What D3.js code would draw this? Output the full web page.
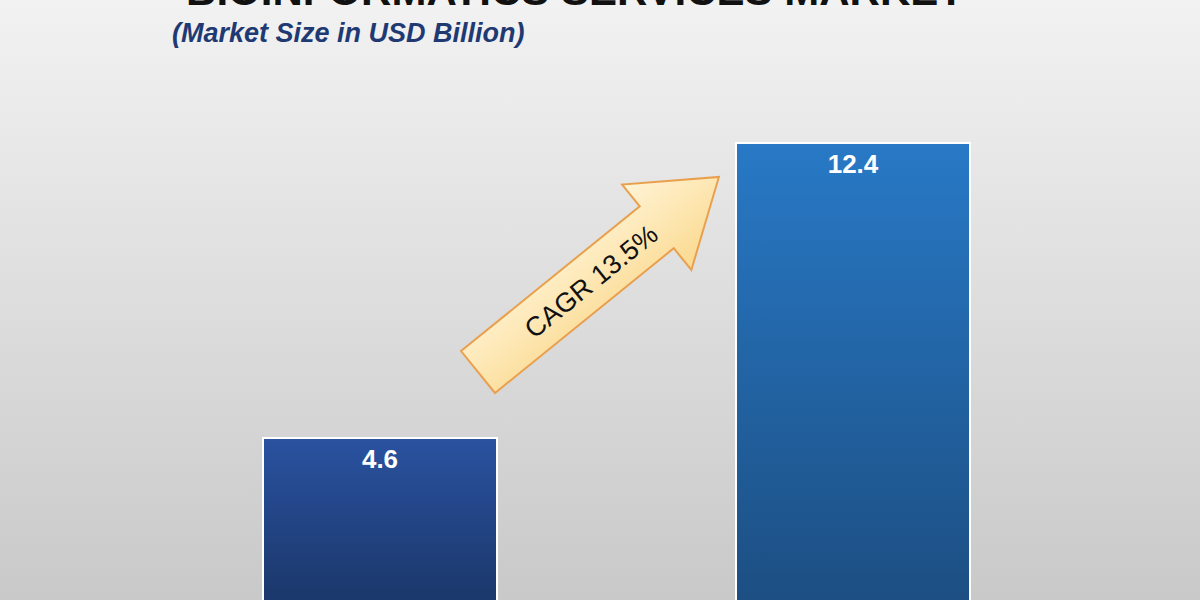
<!DOCTYPE html><html><head><meta charset="utf-8"><script src="https://d3js.org/d3.v7.min.js"></script>
<style>body{margin:0}</style></head><body><svg id="c" width="1200" height="600"></svg><script>
const categories=["2023","2030"];
const values=[4.6,12.4];
const labels=["4.6","12.4"];
const title="BIOINFORMATICS SERVICES MARKET";
const subtitle="(Market Size in USD Billion)";
const cagr="CAGR 13.5%";
const svg=d3.select("#c");
const defs=svg.append("defs");
const bg=defs.append("linearGradient").attr("id","bg").attr("x1",0).attr("y1",0).attr("x2",0).attr("y2",1);
bg.append("stop").attr("offset",0).attr("stop-color","#f2f2f2");
bg.append("stop").attr("offset",1).attr("stop-color","#c9c9c9");
const cols=[["#2a52a0","#1a3566"],["#2879c6","#1c4d80"]];
cols.forEach((c,i)=>{const g=defs.append("linearGradient").attr("id","b"+i).attr("x1",0).attr("y1",0).attr("x2",0).attr("y2",1);
g.append("stop").attr("offset",0).attr("stop-color",c[0]);g.append("stop").attr("offset",1).attr("stop-color",c[1]);});
const ag=defs.append("linearGradient").attr("id","ag").attr("x1",0).attr("y1",0).attr("x2",0).attr("y2",1);
ag.append("stop").attr("offset",0).attr("stop-color","#fff4d6");ag.append("stop").attr("offset",1).attr("stop-color","#fbd98f");
svg.append("rect").attr("width",1200).attr("height",600).attr("fill","url(#bg)");
svg.append("text").attr("x",575).attr("y",5).attr("text-anchor","middle").attr("font-family","Liberation Sans, Arial").attr("font-weight","bold").attr("font-size",42).attr("fill","#111").text(title);
svg.append("text").attr("x",172).attr("y",42).attr("font-family","Liberation Sans Narrow, Liberation Sans, Arial").attr("font-style","italic").attr("font-weight","bold").attr("font-size",27).attr("fill","#1f3a73").text(subtitle);
const y=d3.scaleLinear().domain([0,12.4]).range([612,143]);
const xs=d3.scalePoint().domain(categories).range([380,853]);
const bw=234;
svg.selectAll(".bar").data(values).join("rect").attr("x",(d,i)=>xs(categories[i])-bw/2).attr("y",d=>y(d)).attr("width",bw).attr("height",d=>y(0)-y(d)+5).attr("fill",(d,i)=>`url(#b${i})`).attr("stroke","#fff").attr("stroke-width",2);
svg.selectAll(".lbl").data(values).join("text").attr("x",(d,i)=>xs(categories[i])).attr("y",d=>y(d)+30).attr("text-anchor","middle").attr("font-family","Liberation Sans, Arial").attr("font-weight","bold").attr("font-size",26).attr("fill","#fff").text((d,i)=>labels[i]);
const L=310,sw=27,hw=55,hl=80;
const a=svg.append("g").attr("transform","translate(478,372) rotate(-39)");
a.append("path").attr("d",`M0,${-sw}L${L-hl},${-sw}L${L-hl},${-hw}L${L},0L${L-hl},${hw}L${L-hl},${sw}L0,${sw}Z`).attr("fill","url(#ag)").attr("stroke","#e9a04e").attr("stroke-width",2);
a.append("text").attr("x",(L-hl)/2+30).attr("y",10).attr("text-anchor","middle").attr("font-family","Liberation Sans, Arial").attr("font-size",27).attr("fill","#111").text(cagr);
</script></body></html>
